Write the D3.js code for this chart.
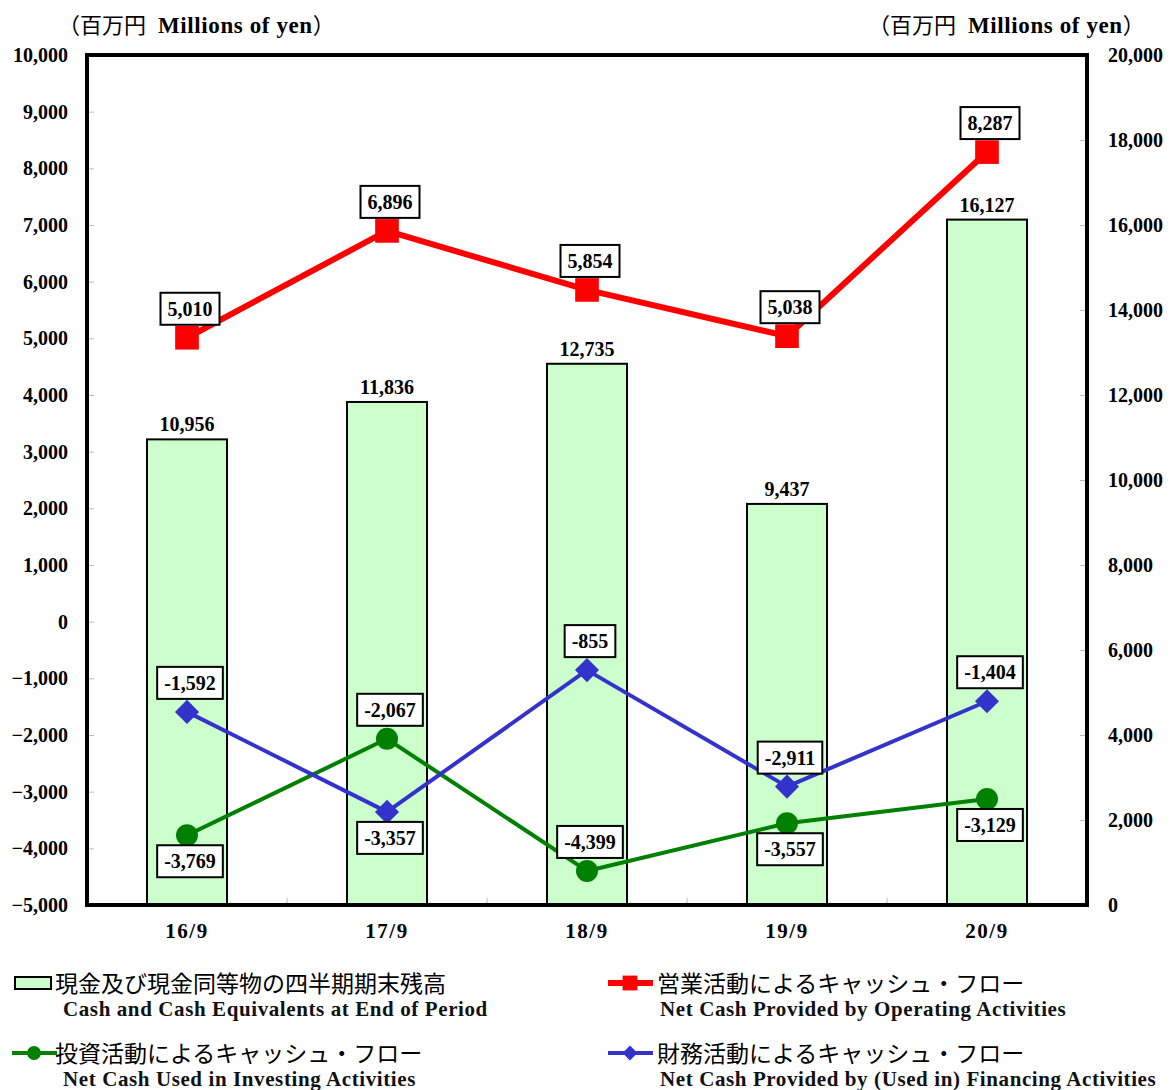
<!DOCTYPE html>
<html>
<head>
<meta charset="utf-8">
<script src="https://cdn.jsdelivr.net/npm/d3@7/dist/d3.min.js"></script>
<style>
  body { margin: 0; background: #fff; }
  svg { display: block; }
  text { font-family: "Liberation Serif", "Noto Sans CJK JP", serif; }
</style>
</head>
<body>
<svg width="1170" height="1090"></svg>
<script>
// data
const periods = ['16/9', '17/9', '18/9', '19/9', '20/9'];
const cashEnd = [10956, 11836, 12735, 9437, 16127];
const operating = [5010, 6896, 5854, 5038, 8287];
const investing = [-3769, -2067, -4399, -3557, -3129];
const financing = [-1592, -3357, -855, -2911, -1404];
// where the boxed value label sits relative to each point
const operatingLabelPos = ['above', 'above', 'above', 'above', 'above'];
const investingLabelPos = ['below', 'above', 'above', 'below', 'below'];
const financingLabelPos = ['above', 'below', 'above', 'above', 'above'];
const leftTicks = d3.range(-5000, 10001, 1000);
const rightTicks = d3.range(0, 20001, 2000);

const svg = d3.select('svg');
const plotL = 87, plotR = 1087, plotT = 55, plotB = 905;
const fmt = d3.format(',');

const x = d3.scaleBand().domain(periods).range([plotL, plotR]);
const yL = d3.scaleLinear().domain([-5000, 10000]).range([plotB, plotT]);
const yR = d3.scaleLinear().domain([0, 20000]).range([plotB, plotT]);

// unit captions
[58, 868].forEach(tx => {
  const t = svg.append('text')
    .attr('x', tx).attr('y', 33)
    .attr('font-size', 22);
  t.append('tspan')
    .attr('font-family', '"Noto Sans CJK JP", sans-serif')
    .text('（百万円');
  t.append('tspan')
    .attr('dx', 12)
    .attr('font-size', 23)
    .attr('font-weight', 'bold')
    .attr('letter-spacing', 0.6)
    .text('Millions of yen');
  t.append('tspan')
    .attr('font-family', '"Noto Sans CJK JP", sans-serif')
    .text('）');
});

// left axis
const axL = svg.append('g')
  .attr('transform', 'translate(' + plotL + ',0)')
  .call(d3.axisLeft(yL).tickValues(leftTicks).tickSize(-7).tickPadding(19).tickFormat(fmt));
axL.select('.domain').remove();
axL.selectAll('line').attr('stroke', '#bbb');
axL.selectAll('text')
  .attr('font-size', 20).attr('font-weight', 'bold').attr('fill', '#000')
  .attr('font-family', '"Liberation Serif", serif');

// right axis
const axR = svg.append('g')
  .attr('transform', 'translate(' + plotR + ',0)')
  .call(d3.axisRight(yR).tickValues(rightTicks).tickSize(-7).tickPadding(21).tickFormat(fmt));
axR.select('.domain').remove();
axR.selectAll('line').attr('stroke', '#bbb');
axR.selectAll('text')
  .attr('font-size', 20).attr('font-weight', 'bold').attr('fill', '#000')
  .attr('font-family', '"Liberation Serif", serif');

// bottom ticks between categories
svg.append('g').selectAll('line')
  .data(periods.slice(1))
  .join('line')
  .attr('x1', d => x(d)).attr('x2', d => x(d))
  .attr('y1', plotB).attr('y2', plotB - 7)
  .attr('stroke', '#bbb');

// category labels
svg.append('g').selectAll('text')
  .data(periods)
  .join('text')
  .attr('x', d => x(d) + x.bandwidth() / 2)
  .attr('y', 938)
  .attr('text-anchor', 'middle')
  .attr('font-size', 21).attr('font-weight', 'bold')
  .attr('letter-spacing', 1.5)
  .text(d => d);

// bars
const barW = 80;
svg.append('g').selectAll('rect')
  .data(cashEnd)
  .join('rect')
  .attr('x', (d, i) => x(periods[i]) + x.bandwidth() / 2 - barW / 2)
  .attr('y', d => yR(d))
  .attr('width', barW)
  .attr('height', d => plotB - yR(d))
  .attr('fill', '#ccffcc')
  .attr('stroke', '#000')
  .attr('stroke-width', 2);

svg.append('g').selectAll('text')
  .data(cashEnd)
  .join('text')
  .attr('x', (d, i) => x(periods[i]) + x.bandwidth() / 2)
  .attr('y', d => yR(d) - 8)
  .attr('text-anchor', 'middle')
  .attr('font-size', 20).attr('font-weight', 'bold')
  .text(d => fmt(d));

// frame
svg.append('rect')
  .attr('x', plotL).attr('y', plotT)
  .attr('width', plotR - plotL).attr('height', plotB - plotT)
  .attr('fill', 'none').attr('stroke', '#000').attr('stroke-width', 4);

const cx = i => x(periods[i]) + x.bandwidth() / 2;

function drawSeries(values, color, width, marker) {
  const g = svg.append('g');
  g.append('path')
    .datum(values)
    .attr('d', d3.line().x((d, i) => cx(i)).y(d => yL(d)))
    .attr('fill', 'none')
    .attr('stroke', color)
    .attr('stroke-width', width)
    .attr('stroke-linejoin', 'round');
  g.selectAll('path.mk')
    .data(values)
    .join('path')
    .attr('class', 'mk')
    .attr('d', d3.symbol().type(marker.type).size(marker.size))
    .attr('transform', (d, i) => 'translate(' + cx(i) + ',' + yL(d) + ')' + (marker.rotate ? ' rotate(45)' : ''))
    .attr('fill', color);
  return g;
}

function drawLabels(values, labelPos) {
  const g = svg.append('g');
  values.forEach((v, i) => {
    const ly = yL(v) + (labelPos[i] === 'above' ? -29 : 26);
    const lx = cx(i) + 3;
    const lg = g.append('g');
    const box = lg.append('rect');
    const t = lg.append('text')
      .attr('x', lx).attr('y', ly + 7)
      .attr('text-anchor', 'middle')
      .attr('font-size', 20).attr('font-weight', 'bold')
      .text(fmt(v).replace('−', '-'));
    const w = t.node().getComputedTextLength() + 14;
    box.attr('x', lx - w / 2).attr('y', ly - 16)
      .attr('width', w).attr('height', 32)
      .attr('fill', '#fff').attr('stroke', '#000').attr('stroke-width', 2);
  });
}

drawSeries(investing, '#008000', 4, {type: d3.symbolCircle, size: 380});
drawSeries(financing, '#3333cc', 4, {type: d3.symbolSquare, size: 290, rotate: true});
drawSeries(operating, '#ff0000', 6, {type: d3.symbolSquare, size: 560});

drawLabels(operating, operatingLabelPos);
drawLabels(investing, investingLabelPos);
drawLabels(financing, financingLabelPos);

// legend
const legend = [
  {x: 15, y: 983, kind: 'bar', jp: '現金及び現金同等物の四半期期末残高', en: 'Cash and Cash Equivalents at End of Period', tx: 55, ex: 63},
  {x: 608, y: 983, kind: 'line', color: '#ff0000', w: 6, marker: d3.symbolSquare, size: 220, jp: '営業活動によるキャッシュ・フロー', en: 'Net Cash Provided by Operating Activities', tx: 657, ex: 660},
  {x: 12, y: 1053, kind: 'line', color: '#008000', w: 4, marker: d3.symbolCircle, size: 150, jp: '投資活動によるキャッシュ・フロー', en: 'Net Cash Used in Investing Activities', tx: 55, ex: 63},
  {x: 608, y: 1053, kind: 'line', color: '#3333cc', w: 4, marker: d3.symbolSquare, size: 110, rotate: true, jp: '財務活動によるキャッシュ・フロー', en: 'Net Cash Provided by (Used in) Financing Activities', tx: 657, ex: 660}
];

legend.forEach(l => {
  const g = svg.append('g');
  if (l.kind === 'bar') {
    g.append('rect')
      .attr('x', l.x).attr('y', l.y - 6).attr('width', 36).attr('height', 12)
      .attr('fill', '#ccffcc').attr('stroke', '#000').attr('stroke-width', 2);
  } else {
    g.append('line')
      .attr('x1', l.x).attr('x2', l.x + 45).attr('y1', l.y).attr('y2', l.y)
      .attr('stroke', l.color).attr('stroke-width', l.w);
    g.append('path')
      .attr('d', d3.symbol().type(l.marker).size(l.size))
      .attr('transform', 'translate(' + (l.x + 22) + ',' + l.y + ')' + (l.rotate ? ' rotate(45)' : ''))
      .attr('fill', l.color);
  }
  g.append('text')
    .attr('x', l.tx).attr('y', l.y + 9)
    .attr('font-size', 23)
    .attr('font-family', '"Noto Sans CJK JP", sans-serif')
    .text(l.jp);
  g.append('text')
    .attr('x', l.ex).attr('y', l.y + 33)
    .attr('font-size', 21).attr('font-weight', 'bold')
    .attr('letter-spacing', 0.6)
    .attr('fill', '#111')
    .text(l.en);
});
</script>
</body>
</html>
